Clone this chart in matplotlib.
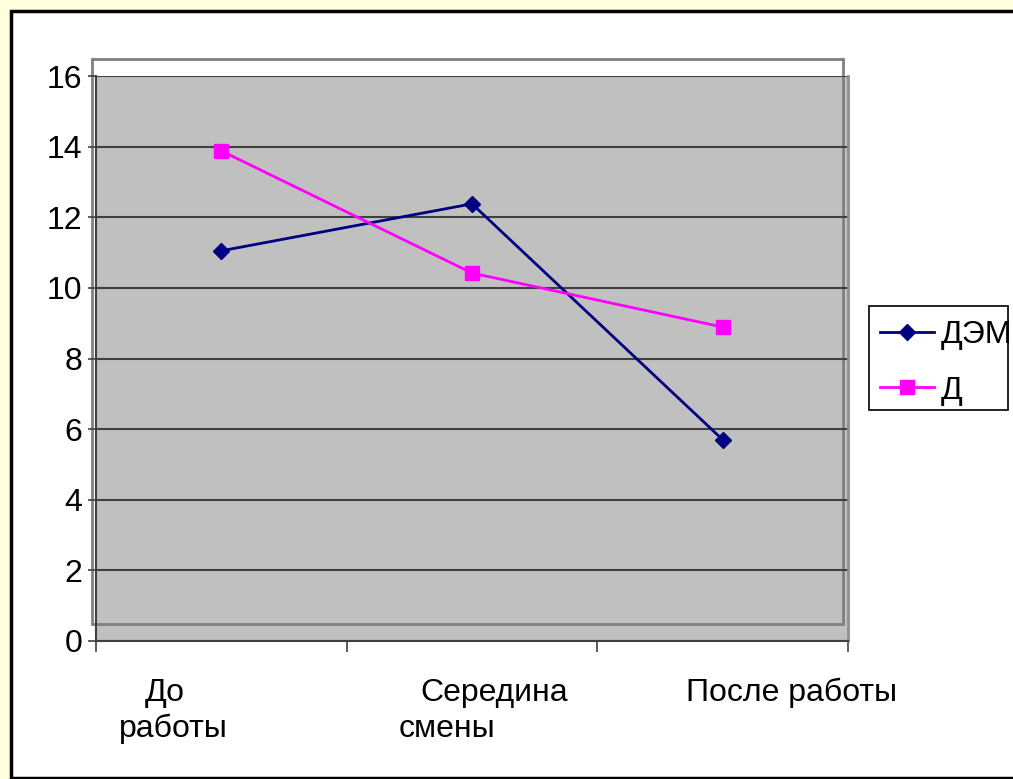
import numpy as np
import matplotlib
matplotlib.use("Agg")
import matplotlib.pyplot as plt
from matplotlib.patches import Rectangle

plt.rcParams['font.family'] = ['Liberation Sans', 'DejaVu Sans']

# data
categories = ["До работы", "Середина смены", "После работы"]
label_lines = [["До", "работы"], ["Середина", "смены"], ["После работы"]]
dem = [11.05, 12.38, 5.70]
d = [13.88, 10.42, 8.89]
series_names = ["ДЭМ", "Д"]

W, H = 1013, 779
FS = 23
fig = plt.figure(figsize=(W / 100, H / 100), dpi=100)
fig.patch.set_facecolor('#FFFFDD')


def px(x0, y0, x1, y1):
    """pixel box (top-left origin) -> figure fraction rect"""
    return [x0 / W, 1 - y1 / H, (x1 - x0) / W, (y1 - y0) / H]


# outer white chart area with black frame
fr = px(11, 11, 1030, 778)
fig.patches.append(Rectangle((fr[0], fr[1]), fr[2], fr[3], transform=fig.transFigure,
                             facecolor='white', edgecolor='black', lw=2.5, zorder=-2))

ax = fig.add_axes(px(96, 76, 848, 641))
ax.set_facecolor('#C0C0C0')

# back wall outline (3d look)
bw = px(92, 59, 843, 624)
ax.add_patch(Rectangle((bw[0], bw[1]), bw[2], bw[3], transform=fig.transFigure,
                       fill=False, edgecolor='#808080', lw=2, clip_on=False, zorder=0.5))

x = np.arange(len(categories)) + 0.5
ax.plot(x, dem, color='#000080', lw=2, marker='D', ms=8, zorder=3, label=series_names[0])
ax.plot(x, d, color='#FF00FF', lw=2, marker='s', ms=9.5, zorder=3, label=series_names[1])

ax.set_xlim(0, len(categories))
ax.set_ylim(0, 16)
ax.set_yticks(np.arange(0, 17, 2))
ax.set_xticks(np.arange(0, len(categories) + 1))
ax.set_xticklabels([])
ax.yaxis.grid(True, color='#404040', lw=1.5, zorder=1)
ax.set_axisbelow(True)
ax.tick_params(axis='y', labelsize=FS, length=6, width=1.2, color='#404040', pad=4)
ax.tick_params(axis='x', length=8, width=1.2, color='#404040')

ax.spines['top'].set_visible(False)
ax.spines['left'].set_color('#404040')
ax.spines['left'].set_linewidth(1.5)
ax.spines['bottom'].set_color('#404040')
ax.spines['bottom'].set_linewidth(1.5)
ax.spines['right'].set_color('#909090')
ax.spines['right'].set_linewidth(2)

# category labels (each wrapped line placed as in the source)
offsets = [[-0.224, -0.192], [0.088, -0.10], [0.276]]
baselines = [-0.106, -0.170]
for i, lines in enumerate(label_lines):
    for j, txt in enumerate(lines):
        ax.text(x[i] + offsets[i][j], baselines[j], txt, transform=ax.get_xaxis_transform(),
                ha='center', va='baseline', fontsize=FS, clip_on=False)

# legend with a hand-drawn frame
lb = px(869, 306, 1008, 410)
fig.patches.append(Rectangle((lb[0], lb[1]), lb[2], lb[3], transform=fig.transFigure,
                             facecolor='white', edgecolor='black', lw=1.2, zorder=2))
leg = fig.legend(loc='upper left', bbox_to_anchor=(880 / W, 1 - 320 / H), frameon=False,
                 fontsize=FS, handlelength=1.7, handletextpad=0.2, borderpad=0,
                 borderaxespad=0, labelspacing=0.8)

fig.savefig('out.png', dpi=100, facecolor=fig.get_facecolor())
